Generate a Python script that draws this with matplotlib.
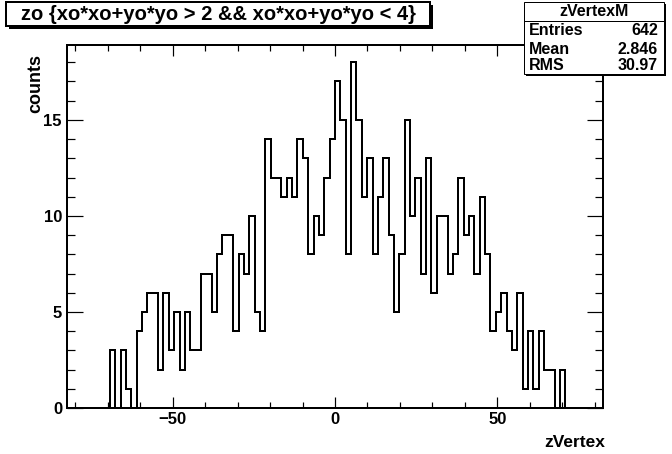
import numpy as np
import matplotlib
matplotlib.use('Agg')
import matplotlib.pyplot as plt
from matplotlib.patches import Rectangle
from matplotlib.ticker import MultipleLocator

# ---- data ----
x_min, x_max, n_bins = -82.5, 82.5, 100
counts = [0, 0, 0, 0, 0, 0, 0, 0,
          3, 0, 3, 1, 0, 4, 5, 6, 6,
          2, 6, 3, 5, 2, 5, 3, 3, 7, 7,
          5, 8, 9, 9, 4, 8, 7, 10, 5, 4,
          14, 12, 12, 11, 12, 11, 14, 13, 8, 10,
          9, 12, 14, 17, 15, 8, 18, 15, 11, 13,
          8, 11, 13, 9, 5, 8, 15, 10, 12, 7,
          13, 6, 10, 10, 7, 8, 12, 9, 10, 7,
          11, 8, 4, 5, 6, 4, 3, 6, 1, 4,
          1, 4, 2, 2, 0, 2,
          0, 0, 0, 0, 0, 0, 0]
x_ticks = [-50, 0, 50]
y_ticks = [0, 5, 10, 15]
title = "zo {xo*xo+yo*yo > 2 && xo*xo+yo*yo < 4}"
x_label = "zVertex"
y_label = "counts"
stats_name = "zVertexM"
stats_rows = [("Entries", "642"), ("Mean", "2.846"), ("RMS", "30.97")]

plt.rcParams['font.family'] = ['Liberation Sans', 'DejaVu Sans']
plt.rcParams['font.weight'] = 'bold'

W, H = 672, 454
fig = plt.figure(figsize=(W / 100, H / 100), dpi=100)
fig.patch.set_facecolor('white')

def fx(x):
    return x / W

def fy(y):
    return 1 - y / H

PX = 0.72  # points per pixel

ax_l, ax_r, ax_t, ax_b = 67, 603, 45, 408
ax = fig.add_axes([fx(ax_l), fy(ax_b), (ax_r - ax_l) / W, (ax_b - ax_t) / H])

edges = np.linspace(x_min, x_max, n_bins + 1)
ax.stairs(counts, edges, color='black', linewidth=2 * PX, baseline=0)

ax.set_xlim(x_min, x_max)
ax.set_ylim(0, max(counts) * 1.05)

for s in ax.spines.values():
    s.set_linewidth(2 * PX)

ax.set_xticks(x_ticks)
ax.set_yticks(y_ticks)
ax.xaxis.set_minor_locator(MultipleLocator(10))
ax.yaxis.set_minor_locator(MultipleLocator(1))
ax.tick_params(axis='x', which='major', direction='in', top=True, length=11 * PX,
               width=1.2 * PX, pad=4 * PX, labelsize=12)
ax.tick_params(axis='x', which='minor', direction='in', top=True, length=6 * PX,
               width=1.2 * PX)
ax.tick_params(axis='y', which='major', direction='in', right=True, length=16 * PX,
               width=1.2 * PX, pad=5 * PX, labelsize=12)
ax.tick_params(axis='y', which='minor', direction='in', right=True, length=8 * PX,
               width=1.2 * PX)
for lab in ax.get_xticklabels() + ax.get_yticklabels():
    lab.set_fontweight('bold')

# axis titles
fig.text(fx(605), fy(447), x_label, ha='right', va='baseline', fontsize=12.5,
         fontweight='bold')
fig.text(fx(27), fy(54), y_label, ha='right', va='top', rotation=90, fontsize=13,
         fontweight='bold', rotation_mode='anchor')

# title box with shadow
tx0, ty0, tx1, ty1 = 6, 2, 430, 26
sh = 3
fig.patches.append(Rectangle((fx(tx0 + sh), fy(ty1 + sh)), (tx1 - tx0) / W, (ty1 - ty0) / H,
                             transform=fig.transFigure, facecolor='black', edgecolor='black',
                             linewidth=0, zorder=5))
fig.patches.append(Rectangle((fx(tx0), fy(ty1)), (tx1 - tx0) / W, (ty1 - ty0) / H,
                             transform=fig.transFigure, facecolor='white', edgecolor='black',
                             linewidth=2 * PX, zorder=6))
fig.text(fx((tx0 + tx1) / 2), fy((ty0 + ty1) / 2 + 1), title, ha='center', va='center',
         fontsize=14.5, fontweight='bold', zorder=7)

# stats box with shadow
sx0, sy0, sx1, sy1 = 524, 2, 664, 74
sh2 = 2
fig.patches.append(Rectangle((fx(sx0 + sh2), fy(sy1 + sh2)), (sx1 - sx0) / W, (sy1 - sy0) / H,
                             transform=fig.transFigure, facecolor='black', edgecolor='black',
                             linewidth=0, zorder=5))
fig.patches.append(Rectangle((fx(sx0), fy(sy1)), (sx1 - sx0) / W, (sy1 - sy0) / H,
                             transform=fig.transFigure, facecolor='white', edgecolor='black',
                             linewidth=1 * PX, zorder=6))
sep_y = 21
fig.add_artist(plt.Line2D([fx(sx0), fx(sx1)], [fy(sep_y), fy(sep_y)],
                          transform=fig.transFigure, color='black', linewidth=1 * PX, zorder=7))
fig.text(fx((sx0 + sx1) / 2), fy(11.5), stats_name, ha='center', va='center',
         fontsize=11.5, fontweight='bold', zorder=8)
row_y = [30.5, 49, 66]
for (k, v), yy in zip(stats_rows, row_y):
    fig.text(fx(sx0 + 5), fy(yy), k, ha='left', va='center', fontsize=11.5,
             fontweight='bold', zorder=8)
    fig.text(fx(sx1 - 6), fy(yy), v, ha='right', va='center', fontsize=11.5,
             fontweight='bold', zorder=8)

fig.savefig('out.png', dpi=100, facecolor='white')
